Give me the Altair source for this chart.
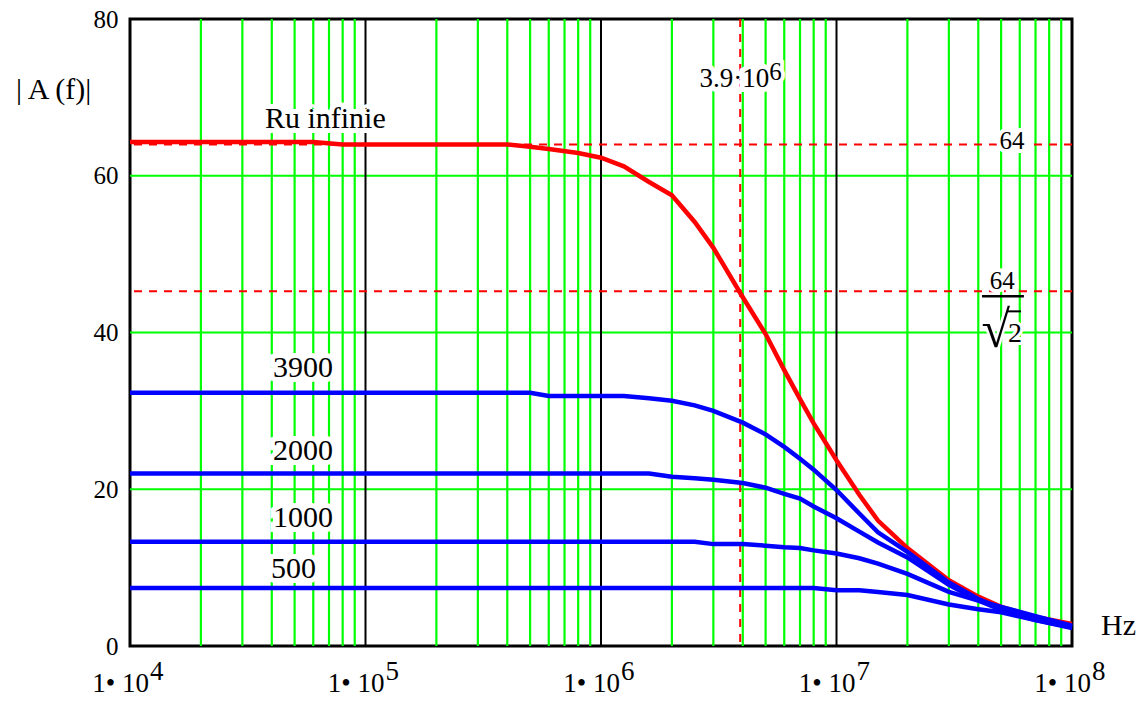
import altair as alt
import pandas as pd

# ---------------- data ----------------
freq = [1e4, 6e4, 8e4, 1e5, 4e5, 5e5, 6e5, 8e5, 1e6, 1.25e6, 1.6e6, 2e6, 2.5e6, 3e6,
        4e6, 5e6, 6e6, 7e6, 8e6, 1e7, 1.25e7, 1.5e7, 2e7, 3e7, 4e7, 5e7, 7e7, 1e8]

ru_infinie = [64.3, 64.3, 64.0, 64.0, 64.0, 63.7, 63.4, 62.9, 62.3, 61.2, 59.2, 57.5, 54.1, 50.8,
              44.5, 39.8, 35.2, 31.5, 28.4, 23.7, 19.3, 16.0, 12.5, 8.4, 6.3, 5.0, 3.7, 2.8]
ru_3900 = [32.3, 32.3, 32.3, 32.3, 32.3, 32.3, 31.9, 31.9, 31.9, 31.9, 31.6, 31.3, 30.7, 30.0,
           28.5, 27.0, 25.4, 23.9, 22.5, 19.9, 16.9, 14.5, 12.0, 8.1, 6.0, 4.8, 3.4, 2.5]
ru_2000 = [22.0, 22.0, 22.0, 22.0, 22.0, 22.0, 22.0, 22.0, 22.0, 22.0, 22.0, 21.6, 21.4, 21.2,
           20.8, 20.2, 19.4, 18.8, 17.8, 16.3, 14.6, 13.2, 11.3, 7.8, 5.8, 4.6, 3.3, 2.3]
ru_1000 = [13.3, 13.3, 13.3, 13.3, 13.3, 13.3, 13.3, 13.3, 13.3, 13.3, 13.3, 13.3, 13.3, 13.0,
           13.0, 12.8, 12.6, 12.5, 12.2, 11.8, 11.2, 10.5, 9.2, 6.9, 5.8, 5.0, 3.8, 2.6]
ru_500 = [7.4, 7.4, 7.4, 7.4, 7.4, 7.4, 7.4, 7.4, 7.4, 7.4, 7.4, 7.4, 7.4, 7.4,
          7.4, 7.4, 7.4, 7.4, 7.4, 7.1, 7.1, 6.9, 6.5, 5.3, 4.7, 4.3, 3.3, 2.4]

blue_series = {"3900": ru_3900, "2000": ru_2000, "1000": ru_1000, "500": ru_500}

decades = [1e4, 1e5, 1e6, 1e7, 1e8]
exponents = ["4", "5", "6", "7", "8"]
minor_mult = [2, 3, 4, 5, 6, 7, 8, 9]
y_grid = [20, 40, 60]
y_ticks = [0, 20, 40, 60, 80]

gain = 64
gain_3db = 45.25          # 64 / sqrt(2)
f_cut = 3.9e6

curve_labels = ["Ru infinie", "3900", "2000", "1000", "500"]
curve_label_f = [3.74e4, 4.05e4, 4.05e4, 4.05e4, 3.97e4]
curve_label_v = [66.1, 34.3, 23.7, 15.2, 8.7]

FONT = "Liberation Serif"
GREEN = "#00ff00"

# ---------------- tables ----------------
red_df = pd.DataFrame({"f": freq, "v": ru_infinie, "s": "Ru infinie"})
blue_df = pd.concat([pd.DataFrame({"f": freq, "v": vals, "s": k}) for k, vals in blue_series.items()])
minor_df = pd.DataFrame({"f": [m * d for d in decades[:-1] for m in minor_mult]})
major_df = pd.DataFrame({"f": decades[1:-1]})
hgrid_df = pd.DataFrame({"v": y_grid})
hdash_df = pd.DataFrame({"v": [gain, gain_3db]})
vdash_df = pd.DataFrame({"f": [f_cut]})
xlab_df = pd.DataFrame({"f": decades, "e": exponents})
clab_df = pd.DataFrame({"f": curve_label_f, "v": curve_label_v, "t": curve_labels})

xs = alt.Scale(type="log", domain=[1e4, 1e8], nice=False)
ys = alt.Scale(domain=[0, 80], nice=False, zero=False)
yaxis = alt.Axis(values=y_ticks, labelFont=FONT, labelFontSize=25, labelColor="black",
                 ticks=False, domain=False, grid=False, title=None, labelPadding=12)
X = alt.X("f:Q", scale=xs, axis=None)
Y = alt.Y("v:Q", scale=ys, axis=yaxis)


def txt(df, size, align, text, dx=0, dy=0, halo=0, xenc=None, yenc=None):
    kw = dict(font=FONT, fontSize=size, align=align, baseline="alphabetic", dx=dx, dy=dy)
    if halo:
        m = alt.Chart(df).mark_text(color="white", stroke="white", strokeWidth=halo, **kw)
    else:
        m = alt.Chart(df).mark_text(color="black", **kw)
    return m.encode(x=xenc if xenc is not None else X, y=yenc if yenc is not None else Y, text=text)


minor = alt.Chart(minor_df).mark_rule(color=GREEN, strokeWidth=2.2).encode(x=X)
hgrid = alt.Chart(hgrid_df).mark_rule(color=GREEN, strokeWidth=2.2).encode(y=Y)
major = alt.Chart(major_df).mark_rule(color="black", strokeWidth=2).encode(x=X)

hdash = alt.Chart(hdash_df).mark_rule(color="#ff0000", strokeWidth=2, strokeDash=[8, 7]).encode(y=Y)
vdash = alt.Chart(vdash_df).mark_rule(color="#ff0000", strokeWidth=2, strokeDash=[8, 7]).encode(x=X)

red_line = alt.Chart(red_df).mark_line(color="#ff0000", strokeWidth=4.5).encode(x=X, y=Y)
blue_line = alt.Chart(blue_df).mark_line(color="#0000ff", strokeWidth=4.5).encode(x=X, y=Y, detail="s:N")

layers = [minor, hgrid, major, hdash, vdash, red_line, blue_line]

# curve labels with white background halo
layers += [txt(clab_df, 30, "left", "t:N", halo=10), txt(clab_df, 30, "left", "t:N")]

# annotation "3.9 . 10^6"
ann_df = pd.DataFrame({"f": [f_cut], "v": [71.3], "t": ["3.9·10"], "e": ["6"]})
layers += [txt(ann_df, 27, "right", "t:N", dx=29, halo=10),
           txt(ann_df, 25, "left", "e:N", dx=29, dy=-7, halo=8),
           txt(ann_df, 27, "right", "t:N", dx=29),
           txt(ann_df, 25, "left", "e:N", dx=29, dy=-7)]

# "64" label on the gain line
g_df = pd.DataFrame({"f": [5.56e7], "v": [gain], "t": ["64"]})
layers += [txt(g_df, 25, "center", "t:N", dy=5, halo=8), txt(g_df, 25, "center", "t:N", dy=5)]

# fraction 64 / sqrt(2)
fr_df = pd.DataFrame({"f": [5.05e7], "v": [gain_3db], "t": ["64"]})
fr_box = pd.DataFrame({"f": [4.15e7], "f2": [6.25e7], "v": [gain_3db]})
rad_df = pd.DataFrame({"f": [5.35e7], "f2": [6.07e7], "v": [gain_3db], "r": ["√"], "t": ["2"]})
layers += [
    txt(fr_df, 25, "center", "t:N", dy=-2, halo=8),
    txt(fr_df, 25, "center", "t:N", dy=-2),
    alt.Chart(fr_box).mark_rule(color="black", strokeWidth=2.5, yOffset=5).encode(x=X, x2="f2:Q", y=Y),
    txt(rad_df, 52, "right", "r:N", dx=2, dy=56, halo=5),
    txt(rad_df, 28, "left", "t:N", dy=51, halo=6),
    txt(rad_df, 52, "right", "r:N", dx=2, dy=56),
    txt(rad_df, 28, "left", "t:N", dy=51),
    alt.Chart(rad_df).mark_rule(color="black", strokeWidth=2, yOffset=20).encode(x=X, x2="f2:Q", y=Y),
]

# x tick labels 1 . 10^n
layers += [
    txt(xlab_df, 27, "right", alt.value("1• 10"), dx=19, yenc=alt.value(673)),
    txt(xlab_df, 27, "left", "e:N", dx=20, yenc=alt.value(661)),
]

# axis titles
layers += [
    txt(pd.DataFrame({"t": ["| A (f)|"]}), 30, "left", "t:N", xenc=alt.value(-114), yenc=alt.value(80)),
    txt(pd.DataFrame({"t": ["Hz"]}), 30, "left", "t:N", xenc=alt.value(971), yenc=alt.value(616)),
]

chart = alt.layer(*layers).properties(
    width=942, height=627,
    padding={"left": 122, "top": 11, "right": 66, "bottom": 52},
    autosize=alt.AutoSizeParams(type="none"),
    background="white",
).configure_view(stroke="black", strokeWidth=3)

chart.save("out.html", embed_options={"renderer": "svg", "actions": False})
